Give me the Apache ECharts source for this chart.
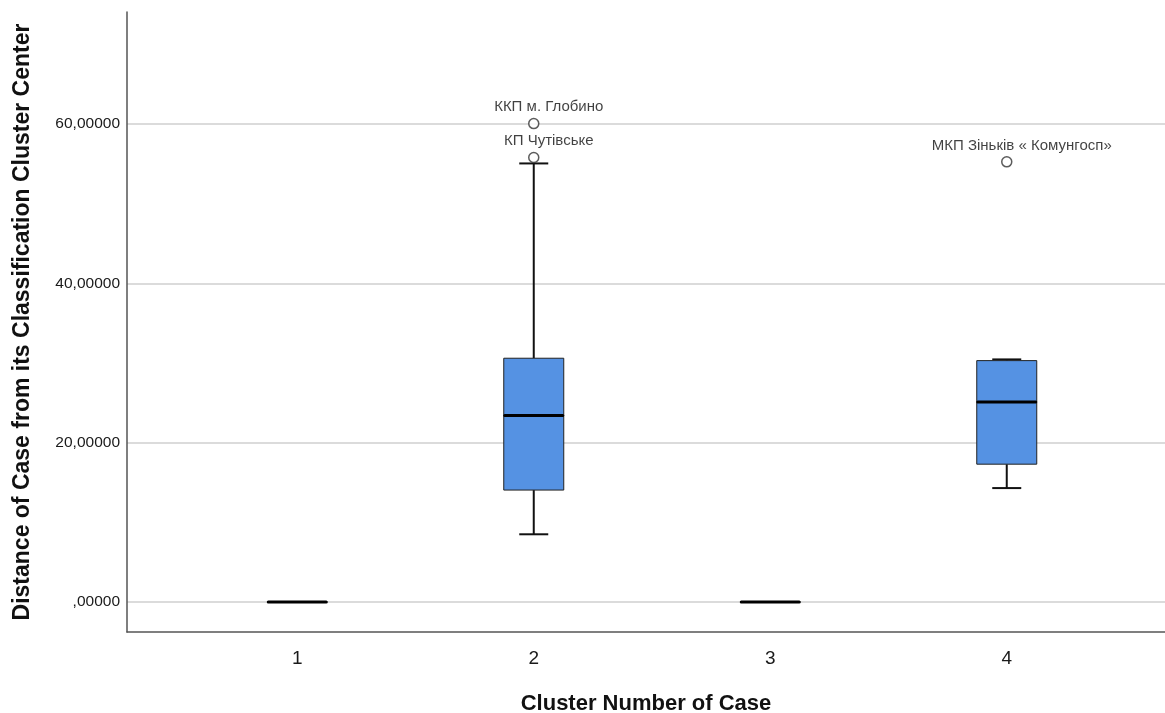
<!DOCTYPE html>
<html><head><meta charset="utf-8">
<script src="https://cdn.jsdelivr.net/npm/echarts@6/dist/echarts.min.js"></script>
<style>html,body{margin:0;padding:0;background:#fff}#c{width:1165px;height:713px}</style>
</head><body><div id="c"></div>
<script>
const categories = ['1', '2', '3', '4'];
// [min, Q1, median, Q3, max]
const boxValues = [
  [0, 0, 0, 0, 0],
  [8.5, 14.05, 23.4, 30.6, 55.05],
  [0, 0, 0, 0, 0],
  [14.3, 17.3, 25.1, 30.3, 30.45]
];
const outlierCategory = [1, 1, 3];
const outlierValues = [60.05, 55.8, 55.25];
const outlierNames = ['ККП м. Глобино', 'КП Чутівське', 'МКП Зіньків « Комунгосп»'];
const yTicks = [0, 20, 40, 60];

const fontFam = '"Liberation Sans", Arial, sans-serif';
const chart = echarts.init(document.getElementById('c'));

const boxData = boxValues.map((v, i) => [i].concat(v));
const outData = outlierValues.map((v, i) => ({ value: [outlierCategory[i], v], name: outlierNames[i] }));

function renderBox(params, api) {
  const idx = api.value(0);
  const pMin = api.coord([idx, api.value(1)]);
  const pQ1 = api.coord([idx, api.value(2)]);
  const pMed = api.coord([idx, api.value(3)]);
  const pQ3 = api.coord([idx, api.value(4)]);
  const pMax = api.coord([idx, api.value(5)]);
  const x = pMed[0];
  const bw = 60, cw = 29;
  const children = [];
  const wStyle = { stroke: '#111', lineWidth: 2 };
  if (pMax[1] < pQ3[1]) {
    children.push({ type: 'line', shape: { x1: x, y1: pQ3[1], x2: x, y2: pMax[1] }, style: wStyle });
  }
  children.push({ type: 'line', shape: { x1: x - cw / 2, y1: pMax[1], x2: x + cw / 2, y2: pMax[1] }, style: wStyle });
  if (pMin[1] > pQ1[1]) {
    children.push({ type: 'line', shape: { x1: x, y1: pQ1[1], x2: x, y2: pMin[1] }, style: wStyle });
  }
  children.push({ type: 'line', shape: { x1: x - cw / 2, y1: pMin[1], x2: x + cw / 2, y2: pMin[1] }, style: wStyle });
  children.push({ type: 'rect', shape: { x: x - bw / 2, y: pQ3[1], width: bw, height: pQ1[1] - pQ3[1] },
    style: { fill: '#5592e3', stroke: '#222', lineWidth: 1 } });
  children.push({ type: 'line', shape: { x1: x - bw / 2 + 1, y1: pMed[1], x2: x + bw / 2 - 1, y2: pMed[1] },
    style: { stroke: '#000', lineWidth: 3, lineCap: 'round' } });
  return { type: 'group', children };
}

chart.setOption({
  animation: false,
  grid: [
    { left: 127, right: 0, top: 12, bottom: 81, outerBoundsMode: 'none', containLabel: false },
    { left: 127, right: 0, top: 124, bottom: 111, outerBoundsMode: 'none', containLabel: false },
    { left: 179, right: 40, top: 124, bottom: 111, outerBoundsMode: 'none', containLabel: false }
  ],
  xAxis: [
    { gridIndex: 0, type: 'value', min: 0, max: 1,
      axisLine: { show: true, lineStyle: { color: '#555', width: 1.5 } },
      axisTick: { show: false }, axisLabel: { show: false }, splitLine: { show: false },
      name: 'Cluster Number of Case', nameLocation: 'middle', nameGap: 61,
      nameTextStyle: { fontFamily: fontFam, fontWeight: 'bold', fontSize: 22, color: '#111' } },
    { gridIndex: 1, type: 'value', min: 0, max: 1, show: false },
    { gridIndex: 2, type: 'category', data: categories,
      axisLine: { show: false }, axisTick: { show: false }, splitLine: { show: false },
      axisLabel: { margin: 47, fontFamily: fontFam, fontSize: 19, color: '#1a1a1a' } }
  ],
  yAxis: [
    { gridIndex: 0, type: 'value', min: 0, max: 1,
      axisLine: { show: true, lineStyle: { color: '#555', width: 1.5 } },
      axisTick: { show: false }, axisLabel: { show: false }, splitLine: { show: false },
      name: 'Distance of Case from its Classification Cluster Center', nameLocation: 'middle', nameGap: 93,
      nameTextStyle: { fontFamily: fontFam, fontWeight: 'bold', fontSize: 23, color: '#111' } },
    { gridIndex: 1, type: 'value', min: yTicks[0], max: yTicks[yTicks.length - 1], interval: 20,
      axisLine: { show: false }, axisTick: { show: false },
      axisLabel: { margin: 7, fontFamily: fontFam, fontSize: 15.5, color: '#1a1a1a',
        formatter: v => v === 0 ? ',00000' : v.toFixed(5).replace('.', ',') },
      splitLine: { show: true, lineStyle: { color: '#cfcfcf', width: 1.5 } } },
    { gridIndex: 2, type: 'value', min: yTicks[0], max: yTicks[yTicks.length - 1], show: false }
  ],
  series: [
    { type: 'custom', xAxisIndex: 2, yAxisIndex: 2, data: boxData, renderItem: renderBox, clip: false, z: 3 },
    { type: 'scatter', xAxisIndex: 2, yAxisIndex: 2, data: outData, clip: false, z: 4,
      symbol: 'circle', symbolSize: 10,
      itemStyle: { color: '#fff', borderColor: '#333', borderWidth: 1.5 },
      label: { show: true, position: 'top', distance: 3, offset: [15, 0], formatter: p => p.name,
        fontFamily: fontFam, fontSize: 15, color: '#111' } }
  ]
});
</script></body></html>
